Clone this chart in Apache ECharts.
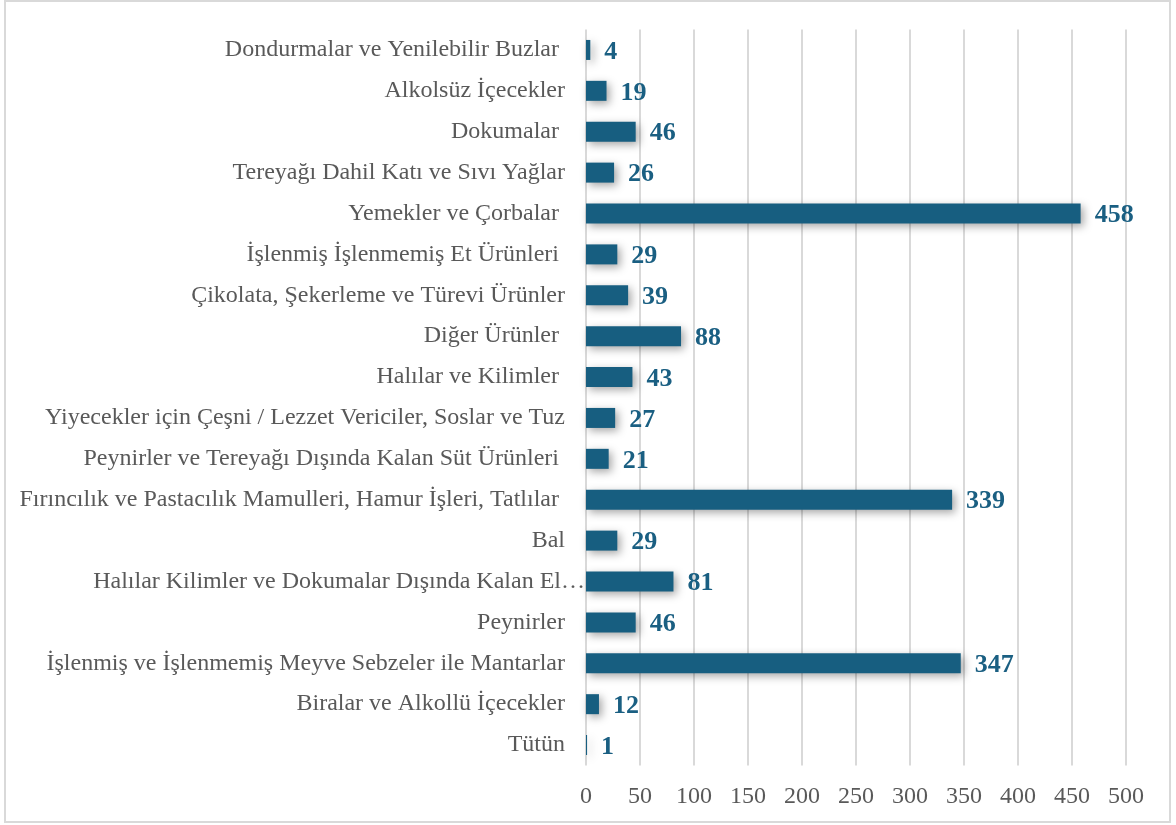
<!DOCTYPE html>
<html>
<head>
<meta charset="utf-8">
<script src="https://cdn.jsdelivr.net/npm/echarts@6/dist/echarts.min.js"></script>
<style>
  html, body { margin: 0; padding: 0; background: #fff; }
  #chart { width: 1176px; height: 825px; }
</style>
</head>
<body>
<div id="chart"></div>
<script>
// kategoriler (yukaridan asagiya)
const categories = [
  "Dondurmalar ve Yenilebilir Buzlar ",
  "Alkolsüz İçecekler",
  "Dokumalar ",
  "Tereyağı Dahil Katı ve Sıvı Yağlar",
  "Yemekler ve Çorbalar ",
  "İşlenmiş İşlenmemiş Et Ürünleri ",
  "Çikolata, Şekerleme ve Türevi Ürünler",
  "Diğer Ürünler ",
  "Halılar ve Kilimler ",
  "Yiyecekler için Çeşni / Lezzet Vericiler, Soslar ve Tuz",
  "Peynirler ve Tereyağı Dışında Kalan Süt Ürünleri ",
  "Fırıncılık ve Pastacılık Mamulleri, Hamur İşleri, Tatlılar ",
  "Bal",
  "Halılar Kilimler ve Dokumalar Dışında Kalan El…",
  "Peynirler",
  "İşlenmiş ve İşlenmemiş Meyve Sebzeler ile Mantarlar",
  "Biralar ve Alkollü İçecekler",
  "Tütün"
];
const values = [4, 19, 46, 26, 458, 29, 39, 88, 43, 27, 21, 339, 29, 81, 46, 347, 12, 1];
const xTicks = [0, 50, 100, 150, 200, 250, 300, 350, 400, 450, 500];

const chartDom = document.getElementById("chart");
const myChart = echarts.init(chartDom);

const serif = "'Liberation Serif', 'Times New Roman', serif";

// uzun etiket icin ozel stil
const yData = categories.map((c) => {
  if (c.endsWith("…")) {
    return { value: c, textStyle: { padding: [0, -20, 0, 0] } };
  }
  return c;
});

const option = {
  animation: false,
  graphic: [{
    type: "rect",
    shape: { x: 5, y: 1, width: 1165, height: 821 },
    style: { fill: "none", stroke: "#d9d9d9", lineWidth: 2 }
  }],
  grid: { left: 586, right: 50, top: 29.5, bottom: 59.5 },
  xAxis: {
    type: "value",
    min: xTicks[0],
    max: xTicks[xTicks.length - 1],
    interval: 50,
    axisLine: { show: false },
    axisTick: { show: false },
    splitLine: { lineStyle: { color: "#d9d9d9", width: 2 } },
    axisLabel: { color: "#595959", fontFamily: serif, fontSize: 24, margin: 19 }
  },
  yAxis: {
    type: "category",
    inverse: true,
    data: yData,
    axisLine: { show: false },
    axisTick: { show: false },
    axisLabel: { color: "#595959", fontFamily: serif, fontSize: 24, margin: 21 }
  },
  series: [{
    type: "bar",
    data: values,
    barWidth: 20,
    itemStyle: {
      color: "#175e80",
      shadowBlur: 8,
      shadowColor: "rgba(0,0,0,0.35)",
      shadowOffsetX: 3,
      shadowOffsetY: 3
    },
    label: {
      show: true,
      position: "right",
      distance: 14,
      offset: [0, 2],
      color: "#1a5f82",
      fontFamily: serif,
      fontWeight: "bold",
      fontSize: 26
    }
  }]
};
option && myChart.setOption(option);
</script>
</body>
</html>
